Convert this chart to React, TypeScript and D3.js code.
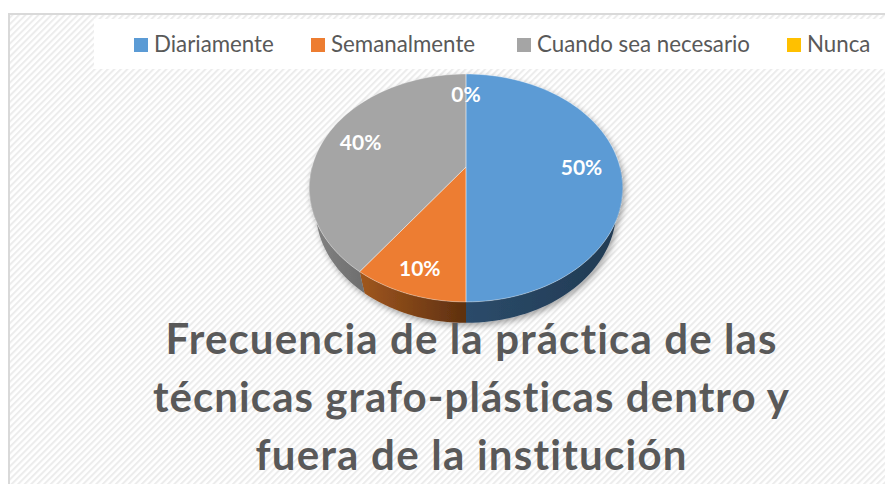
import { useMemo } from 'react';
import * as d3 from 'd3';

const categories = ['Diariamente', 'Semanalmente', 'Cuando sea necesario', 'Nunca'];
const values = [50, 10, 40, 0];
const pctLabels = ['50%', '10%', '40%', '0%'];
const colors = ['#5b9bd5', '#ed7d31', '#a5a5a5', '#ffc000'];
const sideColors = [
  ['#2b4b6a', '#213a52'],
  ['#a0571f', '#5e300f'],
  ['#838383', '#6e6e6e'],
  ['#b38600', '#8a6800'],
];
const titleLines = [
  'Frecuencia de la práctica de las',
  'técnicas grafo-plásticas dentro y',
  'fuera de la institución',
];

const W = 885;
const H = 484;
const legendX = [134, 311, 517, 787];
// widths of the title lines, so the text spans like the original Calibri
const titleWidths = [611, 636, 431];

// 3D pie projection (perspective, tilted disc)
const cx = 466;
const cy = 167;
const S = 154;
const DIST = 3.8;
const PHI = Math.asin(0.715);
const DEPTH = 0.218;

function project(theta: number, yw: number, r = 1): [number, number] {
  const x = r * Math.sin(theta);
  const z = -r * Math.cos(theta);
  const v = z * Math.sin(PHI) - yw * Math.cos(PHI);
  const w = DIST - (z * Math.cos(PHI) + yw * Math.sin(PHI));
  return [cx + (S * x * DIST) / w, cy + (S * v * DIST) / w];
}

const line = d3.line<[number, number]>();

function rim(a0: number, a1: number, yw: number) {
  const n = Math.max(2, Math.ceil(((a1 - a0) / Math.PI) * 90));
  return d3.range(n + 1).map(i => project(a0 + ((a1 - a0) * i) / n, yw));
}

const font = "Lato, 'Open Sans', sans-serif";

export default function App() {
  const arcs = useMemo(
    () =>
      d3.pie<number>().sort(null).startAngle(0).endAngle(2 * Math.PI)(values),
    []
  );

  const sides = arcs
    .map((a, i) => {
      const a0 = Math.max(a.startAngle, Math.PI / 2);
      const a1 = Math.min(a.endAngle, (3 * Math.PI) / 2);
      if (a1 <= a0) return null;
      const pts = [...rim(a0, a1, 0), ...rim(a0, a1, -DEPTH).reverse()];
      const xs = pts.map(p => p[0]);
      return { i, d: line(pts) + 'Z', x0: d3.min(xs)!, x1: d3.max(xs)! };
    })
    .filter(Boolean) as { i: number; d: string; x0: number; x1: number }[];

  const tops = arcs
    .filter(a => a.endAngle > a.startAngle)
    .map(a => {
      const i = a.index;
      const pts: [number, number][] = [project(0, 0, 0), ...rim(a.startAngle, a.endAngle, 0)];
      return { i, d: line(pts) + 'Z' };
    });

  const labels = arcs.map(a => {
    const mid = (a.startAngle + a.endAngle) / 2;
    const r = a.value > 0 && a.value < 15 ? 0.83 : 0.75;
    const [x, y] = project(mid, 0, r);
    return { x, y, t: pctLabels[a.index] };
  });

  return (
    <svg
      width={W}
      height={H}
      style={{ position: 'absolute', left: 0, top: 0, background: '#fff', fontVariantLigatures: 'none' }}
    >
      <defs>
        <pattern
          id="diag"
          width="4.6"
          height="4.6"
          patternUnits="userSpaceOnUse"
          patternTransform="rotate(45)"
        >
          <rect width="4.6" height="4.6" fill="#ffffff" />
          <rect width="2" height="4.6" fill="#ececec" />
        </pattern>
        {sides.map(s => (
          <linearGradient
            key={s.i}
            id={`side${s.i}`}
            gradientUnits="userSpaceOnUse"
            x1={s.x0}
            x2={s.x1}
            y1={0}
            y2={0}
          >
            <stop offset="0" stopColor={sideColors[s.i][0]} />
            <stop offset="1" stopColor={sideColors[s.i][1]} />
          </linearGradient>
        ))}
        <filter id="shadow" x="-20%" y="-20%" width="140%" height="160%">
          <feGaussianBlur in="SourceAlpha" stdDeviation="3" />
          <feOffset dx="2" dy="3" result="b" />
          <feComponentTransfer>
            <feFuncA type="linear" slope="0.35" />
          </feComponentTransfer>
          <feMerge>
            <feMergeNode />
            <feMergeNode in="SourceGraphic" />
          </feMerge>
        </filter>
      </defs>

      <rect x={9} y={14} width={W + 20} height={H + 20} fill="url(#diag)" stroke="#d9d9d9" strokeWidth={2} />

      <rect x={94} y={19} width={W - 94} height={50} fill="#ffffff" />
      {categories.map((c, i) => (
        <g key={c} transform={`translate(${legendX[i]},0)`}>
          <rect x={0} y={38} width={14} height={14} fill={colors[i]} />
          <text x={20} y={52} fontFamily={font} fontSize={22.3} fill="#595959">
            {c}
          </text>
        </g>
      ))}

      <g filter="url(#shadow)">
        {sides.map(s => (
          <path key={s.i} d={s.d} fill={`url(#side${s.i})`} />
        ))}
        {tops.map(t => (
          <path key={t.i} d={t.d} fill={colors[t.i]} />
        ))}
      </g>
      {tops.map(t => (
        <path key={t.i} d={t.d} fill="none" stroke="#ffffff" strokeOpacity={0.35} strokeWidth={1} />
      ))}

      {labels.map(l => (
        <text
          key={l.t}
          x={l.x}
          y={l.y}
          dy="0.36em"
          textAnchor="middle"
          fontFamily={font}
          fontWeight="bold"
          fontSize={21}
          fill="#ffffff"
        >
          {l.t}
        </text>
      ))}

      {titleLines.map((t, i) => (
        <text
          key={t}
          x={471}
          y={354 + i * 58}
          textAnchor="middle"
          textLength={titleWidths[i]}
          lengthAdjust="spacing"
          fontFamily={font}
          fontWeight="bold"
          fontSize={42}
          fill="#595959"
        >
          {t}
        </text>
      ))}
    </svg>
  );
}
